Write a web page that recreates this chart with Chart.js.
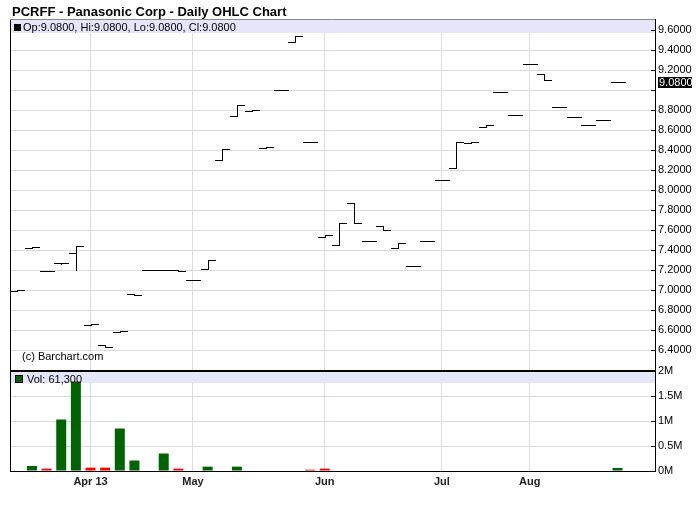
<!DOCTYPE html>
<html lang="en">
<head>
<meta charset="UTF-8">
<title>PCRFF - Panasonic Corp - Daily OHLC Chart</title>
<script src="https://cdn.jsdelivr.net/npm/chart.js"></script>
<style>
  body { margin: 0; background: #fff; font-family: "Liberation Sans", Arial, sans-serif; }
  #wrap { position: relative; width: 700px; height: 512px; }
  #wrap canvas { position: absolute; left: 0; top: 0; }
  .txt { position: absolute; white-space: nowrap; color: #000; font-size: 11px; line-height: 11px; }
  #title { left: 12px; top: 5px; font-size: 13px; line-height: 13px; font-weight: bold; }
  #ohlcInfo { left: 23px; top: 22px; }
  #volInfo { left: 27px; top: 374px; }
  #copy { left: 22px; top: 351px; }
  .sq { position: absolute; width: 7px; height: 7px; box-sizing: border-box; }
  #sqPrice { left: 14px; top: 24px; background: #000; }
  #sqVol { left: 15px; top: 375px; background: #006400; border: 1px solid #000; width: 8px; height: 8px; }
</style>
</head>
<body>
<div id="wrap">
  <canvas id="priceChart" width="700" height="512"></canvas>
  <canvas id="volChart" width="700" height="512"></canvas>
  <div class="txt" id="title">PCRFF - Panasonic Corp - Daily OHLC Chart</div>
  <div class="sq" id="sqPrice"></div>
  <div class="txt" id="ohlcInfo">Op:9.0800, Hi:9.0800, Lo:9.0800, Cl:9.0800</div>
  <div class="txt" id="copy">(c) Barchart.com</div>
  <div class="sq" id="sqVol"></div>
  <div class="txt" id="volInfo">Vol: 61,300</div>
</div>

<script>
  // daily bars, one slot per trading day
  const opens  = [6.99, 7.42, 7.19, 7.27, 7.37, 6.65, 6.45, 6.58, 6.96, 7.20, 7.20, 7.20, 7.10, 7.21,
                  8.30, 8.74, 8.79, 8.42, 9.00, 9.48, 8.48, 7.53, 7.45, 7.87, 7.49, 7.64, 7.42, 7.24,
                  7.49, 8.10, 8.22, 8.47, 8.63, 8.98, 8.75, 9.26, 9.16, 8.83, 8.73, 8.65, 8.70, 9.08];
  const highs  = [7.00, 7.43, 7.19, 7.27, 7.44, 6.66, 6.45, 6.59, 6.96, 7.20, 7.20, 7.20, 7.10, 7.30,
                  8.41, 8.85, 8.80, 8.43, 9.00, 9.54, 8.48, 7.55, 7.67, 7.87, 7.49, 7.64, 7.47, 7.24,
                  7.49, 8.10, 8.48, 8.48, 8.65, 8.98, 8.75, 9.26, 9.16, 8.83, 8.73, 8.65, 8.70, 9.08];
  const lows   = [6.99, 7.42, 7.19, 7.26, 7.20, 6.65, 6.43, 6.58, 6.95, 7.20, 7.20, 7.19, 7.10, 7.21,
                  8.30, 8.74, 8.79, 8.42, 9.00, 9.48, 8.48, 7.53, 7.45, 7.67, 7.49, 7.60, 7.42, 7.24,
                  7.49, 8.10, 8.22, 8.47, 8.63, 8.98, 8.75, 9.26, 9.10, 8.83, 8.73, 8.65, 8.70, 9.08];
  const closes = [7.00, 7.43, 7.19, 7.27, 7.44, 6.66, 6.43, 6.59, 6.95, 7.20, 7.20, 7.19, 7.10, 7.30,
                  8.41, 8.85, 8.80, 8.43, 9.00, 9.54, 8.48, 7.55, 7.67, 7.67, 7.49, 7.60, 7.47, 7.24,
                  7.49, 8.10, 8.48, 8.48, 8.65, 8.98, 8.75, 9.26, 9.10, 8.83, 8.73, 8.65, 8.70, 9.08];
  // 0 = too small to see on the chart
  const volumes = [0, 100000, 47000, 1030000, 1790000, 67000, 67000, 850000, 210000, 0, 350000, 47000,
                   0, 87000, 0, 87000, 0, 0, 0, 0, 27000, 47000, 0, 0, 0, 0, 0, 0,
                   0, 0, 0, 0, 0, 0, 0, 0, 0, 0, 0, 0, 0, 61300];

  const monthTicks  = [5, 12, 21, 29, 35];
  const monthLabels = ['Apr 13', 'May', 'Jun', 'Jul', 'Aug'];
  const priceTicks  = [6.4, 6.6, 6.8, 7.0, 7.2, 7.4, 7.6, 7.8, 8.0, 8.2, 8.4, 8.6, 8.8, 9.0, 9.2, 9.4, 9.6];
  const volTicks    = [0, 500000, 1000000, 1500000, 2000000];

  const lastClose = closes[closes.length - 1];
  const gridColor = '#dcdcdc';
  const band = '#e6e6fa';
  Chart.defaults.font.family = '"Liberation Sans", Arial, sans-serif';
  Chart.defaults.font.size = 11;
  Chart.defaults.color = '#000';

  const xAxis = (showLabels) => ({
    type: 'linear',
    min: -0.5,
    max: 43.56,
    offset: false,
    afterBuildTicks: (s) => { s.ticks = monthTicks.map(v => ({ value: v })); },
    grid: { color: gridColor, drawTicks: false, offset: false },
    border: { display: showLabels, color: '#000' },
    ticks: {
      display: showLabels,
      autoSkip: false,
      maxRotation: 0,
      padding: 4,
      color: '#222',
      font: { weight: 'bold', size: 11 },
      callback: (v, i) => monthLabels[i]
    },
    afterFit: (s) => { s.height = showLabels ? 41 : 0; }
  });

  // open / close ticks and high-low stems, last price box, frame
  const ohlcPlugin = {
    id: 'ohlc',
    beforeDatasetsDraw(chart) {
      const { ctx, chartArea: a } = chart;
      ctx.save();
      ctx.fillStyle = band;
      ctx.fillRect(a.left + 1, a.top, a.right - a.left - 1, 14);
      ctx.restore();
    },
    afterDatasetsDraw(chart) {
      const { ctx, scales: { x, y } } = chart;
      const half = Math.round(x.getPixelForValue(0.48) - x.getPixelForValue(0));
      ctx.save();
      ctx.strokeStyle = '#000';
      ctx.lineWidth = 1;
      ctx.beginPath();
      opens.forEach((o, i) => {
        const cx = Math.round(x.getPixelForValue(i));
        const yo = Math.round(y.getPixelForValue(o)) + 0.5;
        const yc = Math.round(y.getPixelForValue(closes[i])) + 0.5;
        const yh = Math.round(y.getPixelForValue(highs[i]));
        const yl = Math.round(y.getPixelForValue(lows[i])) + 1;
        ctx.moveTo(cx - half, yo); ctx.lineTo(cx + 1, yo);
        ctx.moveTo(cx, yc); ctx.lineTo(cx + half + 1, yc);
        if (yl - yh > 1) { ctx.moveTo(cx + 0.5, yh); ctx.lineTo(cx + 0.5, yl); }
      });
      ctx.stroke();
      ctx.restore();
    },
    afterDraw(chart) {
      const { ctx, chartArea: a, scales: { y } } = chart;
      ctx.save();
      ctx.strokeStyle = '#000';
      ctx.lineWidth = 1;
      ctx.beginPath();
      ctx.moveTo(a.left + 0.5, a.top); ctx.lineTo(a.left + 0.5, a.bottom);
      y.ticks.forEach(t => {
        const py = Math.round(y.getPixelForValue(t.value)) + 0.5;
        ctx.moveTo(a.right - 4, py); ctx.lineTo(a.right, py);
      });
      ctx.stroke();
      ctx.strokeStyle = '#888';
      ctx.beginPath();
      ctx.moveTo(a.left, a.top + 0.5); ctx.lineTo(a.right, a.top + 0.5);
      ctx.stroke();
      // last price marker
      const py = Math.round(y.getPixelForValue(lastClose));
      ctx.fillStyle = '#000';
      ctx.fillRect(a.right + 3, py - 5, 34, 11);
      ctx.fillStyle = '#fff';
      ctx.font = '11px "Liberation Sans", Arial, sans-serif';
      ctx.textBaseline = 'middle';
      ctx.fillText(lastClose.toFixed(4), a.right + 4, py + 0.5);
      ctx.restore();
    }
  };

  new Chart(document.getElementById('priceChart'), {
    type: 'scatter',
    data: { datasets: [] },
    options: {
      responsive: false,
      animation: false,
      devicePixelRatio: 1,
      layout: { padding: { left: 10, top: 19, right: 0, bottom: 142 } },
      plugins: { legend: { display: false }, tooltip: { enabled: false } },
      scales: {
        x: xAxis(false),
        y: {
          position: 'right',
          min: 6.203,
          max: 9.713,
          afterBuildTicks: (s) => { s.ticks = priceTicks.map(v => ({ value: v })); },
          grid: { color: gridColor, drawTicks: false },
          border: { color: '#000' },
          ticks: {
            padding: 3,
            callback: (v) => Math.abs(v - lastClose) < 0.1 ? '' : v.toFixed(4)
          },
          afterFit: (s) => { s.width = 45; }
        }
      }
    },
    plugins: [ohlcPlugin]
  });

  const volPlugin = {
    id: 'volFrame',
    beforeDatasetsDraw(chart) {
      const { ctx, chartArea: a } = chart;
      ctx.save();
      ctx.fillStyle = band;
      ctx.fillRect(a.left + 1, a.top, a.right - a.left - 1, 12);
      ctx.restore();
    },
    afterDraw(chart) {
      const { ctx, chartArea: a, scales: { y } } = chart;
      ctx.save();
      ctx.fillStyle = '#000';
      ctx.fillRect(a.left, a.top - 1, a.right - a.left, 2);
      ctx.strokeStyle = '#000';
      ctx.lineWidth = 1;
      ctx.beginPath();
      ctx.moveTo(a.left + 0.5, a.top); ctx.lineTo(a.left + 0.5, a.bottom);
      y.ticks.forEach(t => {
        const py = Math.round(y.getPixelForValue(t.value)) + 0.5;
        ctx.moveTo(a.right - 4, py); ctx.lineTo(a.right, py);
      });
      ctx.stroke();
      ctx.restore();
    }
  };

  new Chart(document.getElementById('volChart'), {
    type: 'bar',
    data: {
      datasets: [{
        data: volumes.map((v, i) => ({ x: i, y: v })),
        backgroundColor: closes.map((c, i) => (i > 0 && c < closes[i - 1]) ? '#ff0000' : '#006400'),
        barThickness: 10,
        inflateAmount: 0
      }]
    },
    options: {
      responsive: false,
      animation: false,
      devicePixelRatio: 1,
      layout: { padding: { left: 10, top: 371, right: 0, bottom: 0 } },
      plugins: { legend: { display: false }, tooltip: { enabled: false } },
      scales: {
        x: xAxis(true),
        y: {
          position: 'right',
          min: 0,
          max: 2000000,
          afterBuildTicks: (s) => { s.ticks = volTicks.map(v => ({ value: v })); },
          grid: { color: gridColor, drawTicks: false },
          border: { color: '#000' },
          ticks: {
            padding: 3,
            callback: (v) => (v / 1000000) + 'M'
          },
          afterFit: (s) => { s.width = 45; }
        }
      }
    },
    plugins: [volPlugin]
  });
</script>
</body>
</html>
